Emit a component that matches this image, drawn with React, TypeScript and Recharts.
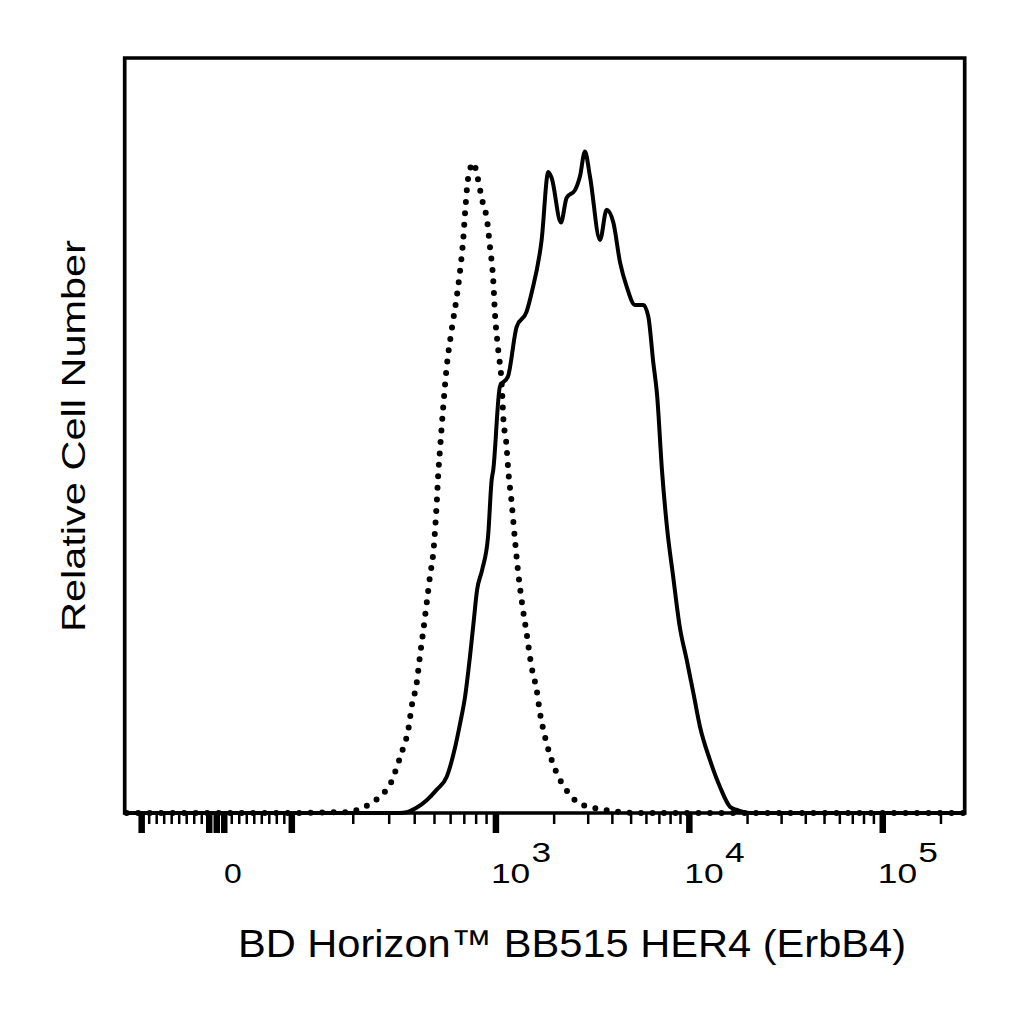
import React from 'react';
import { ComposedChart, Line, XAxis, YAxis, ReferenceArea } from 'recharts';

// ---------- data (fluorescence intensity, relative cell number) ----------
const isotypeX = [-120, 109, 172, 192, 220, 246, 275, 302, 332, 352, 372, 386, 409, 424, 441, 458, 475, 493, 513, 522, 532, 552, 574, 607, 643, 668, 693, 706, 733, 777, 808, 856, 907, 935, 970, 989, 1028, 1070, 1091, 1136, 1158, 1206, 1254, 1304, 1358, 1441, 1530, 1624, 1689, 1793, 1942, 2143, 2367, 2616, 3065, 3890, 5550, 262000];
const isotypeY = [0, 0, 0.1, 0.1, 0.7, 1.3, 2.4, 3.7, 6.6, 8.7, 11.0, 14.0, 17.2, 20.7, 24.2, 27.8, 31.3, 34.4, 41.1, 45.0, 48.1, 53.8, 59.1, 64.0, 68.4, 71.9, 76.3, 79.5, 84.3, 86.1, 84.5, 81.2, 78.3, 75.0, 70.6, 66.2, 61.3, 57.0, 52.5, 48.5, 45.4, 41.1, 36.2, 31.8, 28.2, 23.8, 19.3, 16.3, 13.3, 10.1, 7.0, 4.4, 2.7, 1.5, 0.8, 0.3, 0, 0];

const her4X = [-120, 109, 338, 365, 408, 458, 513, 574, 631, 668, 706, 746, 777, 808, 856, 915, 953, 970, 1049, 1154, 1280, 1441, 1530, 1723, 1865, 1942, 2169, 2321, 2563, 2718, 2886, 3065, 3452, 3738, 4047, 4385, 4747, 5234, 5786, 6140, 6515, 6810, 7220, 7660, 8250, 8930, 9690, 10490, 11360, 12790, 14430, 16270, 17600, 20600, 262000];
const her4Y = [0, 0, 0, 0.1, 0.7, 1.7, 3.1, 4.8, 8.7, 11.9, 15.4, 20.7, 25.2, 29.5, 32.2, 36.6, 44.1, 45.4, 56.5, 57.8, 64.4, 66.4, 68.9, 75.9, 84.9, 84.1, 78.2, 81.5, 82.5, 84.3, 87.6, 84.3, 75.9, 79.9, 78.2, 72.9, 69.7, 67.3, 67.3, 65.7, 59.6, 55.4, 45.4, 37.9, 31.3, 24.6, 20.3, 15.9, 11.4, 7.0, 3.4, 0.8, 0.4, 0, 0];

// ---------- tick marks ----------
const majorTicks = [-100, -10, 0, 10, 100, 1000, 10000, 100000];
const minorTicks = [
  -90, -80, -70, -60, -50, -40, -30, -20,
  20, 30, 40, 50, 60, 70, 80, 90,
  200, 300, 400, 500, 600, 700, 800, 900,
  2000, 3000, 4000, 5000, 6000, 7000, 8000, 9000,
  20000, 30000, 40000, 50000, 60000, 70000, 80000, 90000,
  200000,
];
const labelValues = [0, 1000, 10000, 100000];
const labelExponents = ['', '3', '4', '5'];

// ---------- biexponential-like display scale (units: decades) ----------
const D100 = 1.9447; // display position of 100
const D0 = 1.5566; // display position of 0
const LIN = (D100 - D0) / 100;
const S_LOW = 3 - D100;
const X_MIN = 1.0807;
const X_MAX = 5.4237;

function toDisplay(v: number): number {
  if (v <= 100) return D0 + v * LIN;
  if (v <= 1000) return D100 + (Math.log10(v) - 2) * S_LOW;
  return Math.log10(v);
}

const isotypeData = isotypeX.map((v, i) => ({ d: toDisplay(v), count: isotypeY[i] }));
const her4Data = her4X.map((v, i) => ({ d: toDisplay(v), count: her4Y[i] }));

const allTicksRaw = [...majorTicks, ...minorTicks].sort((a, b) => a - b);
const allTicks = allTicksRaw.map(toDisplay);

const FONT = 'Liberation Sans, Arial, Helvetica, sans-serif';

function rawOf(d: number): number {
  let best = allTicksRaw[0];
  let bd = Infinity;
  allTicksRaw.forEach((r, i) => {
    const dd = Math.abs(allTicks[i] - d);
    if (dd < bd) {
      bd = dd;
      best = r;
    }
  });
  return best;
}

const XTick = (props: any) => {
  const { x, y, payload } = props;
  const raw = rawOf(payload.value);
  const major = majorTicks.includes(raw);
  const len = major ? 20 : 11;
  const w = major ? 6.5 : 2.5;
  const li = labelValues.indexOf(raw);
  let label = null;
  if (li === 0) {
    label = (
      <g transform={`translate(${x + 16},${y + 70}) scale(1.18,1)`}>
        <text x={0} y={0} textAnchor="middle" fontSize={27} fontFamily={FONT} fill="#000">0</text>
      </g>
    );
  } else if (li > 0) {
    label = (
      <g transform={`translate(${x - 5},${y + 70}) scale(1.24,1)`}>
        <text x={0} y={0} textAnchor="start" fontSize={28.5} fontFamily={FONT} fill="#000">
          10
          <tspan dx={1} dy={-21}>{labelExponents[li]}</tspan>
        </text>
      </g>
    );
  }
  return (
    <g>
      <line x1={x} x2={x} y1={y} y2={y + len} stroke="#000" strokeWidth={w} />
      {label}
    </g>
  );
};

export default function App() {
  return (
    <div style={{ position: 'absolute', left: 0, top: 0, background: '#fff' }}>
      <ComposedChart
        width={1024}
        height={1024}
        margin={{ top: 58, right: 59.3, bottom: 151, left: 124.7 }}
      >
        <XAxis
          type="number"
          dataKey="d"
          domain={[X_MIN, X_MAX]}
          ticks={allTicks}
          interval={0}
          tick={<XTick />}
          tickLine={false}
          axisLine={false}
          tickSize={0}
          tickMargin={0}
          height={60}
        />
        <YAxis type="number" domain={[0, 100]} hide width={0} />
        <Line
          data={isotypeData}
          dataKey="count"
          type="monotone"
          stroke="#000"
          strokeWidth={6}
          strokeDasharray="0 11.5"
          strokeLinecap="round"
          dot={false}
          activeDot={false}
          isAnimationActive={false}
        />
        <Line
          data={her4Data}
          dataKey="count"
          type="monotone"
          stroke="#000"
          strokeWidth={4}
          strokeLinejoin="round"
          dot={false}
          activeDot={false}
          isAnimationActive={false}
        />
        <ReferenceArea
          x1={X_MIN}
          x2={X_MAX}
          y1={0}
          y2={100}
          fill="none"
          fillOpacity={0}
          stroke="#000"
          strokeWidth={3.7}
          ifOverflow="visible"
        />
        <text
          x={572}
          y={957}
          textAnchor="middle"
          fontSize={39}
          fontFamily={FONT}
          fill="#000"
          textLength={668}
          lengthAdjust="spacingAndGlyphs"
        >
          BD Horizon™ BB515 HER4 (ErbB4)
        </text>
        <text
          transform="translate(85,436) rotate(-90)"
          textAnchor="middle"
          fontSize={33}
          fontFamily={FONT}
          fill="#000"
          textLength={392}
          lengthAdjust="spacingAndGlyphs"
        >
          Relative Cell Number
        </text>
      </ComposedChart>
    </div>
  );
}
